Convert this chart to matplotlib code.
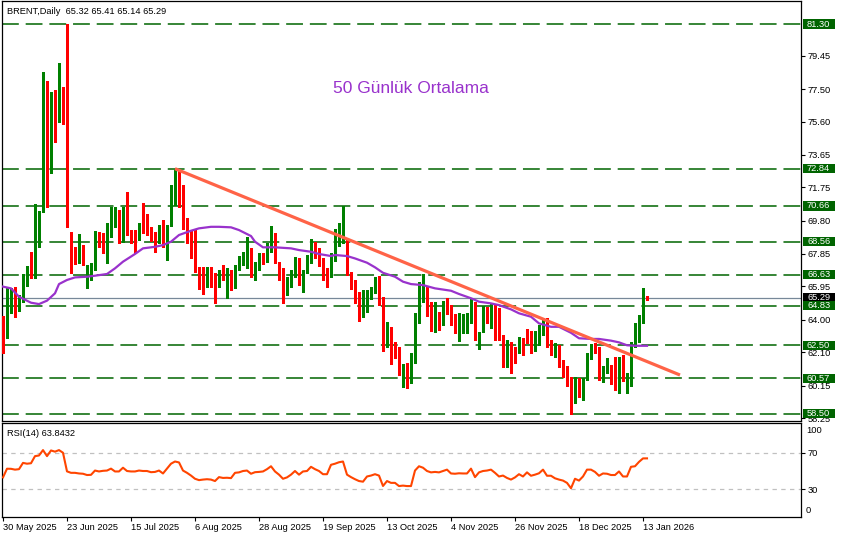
import numpy as np
import matplotlib
matplotlib.use('Agg')
import matplotlib.pyplot as plt
import matplotlib.transforms as mtransforms
from matplotlib.patches import Rectangle

plt.rcParams['font.family'] = ['Liberation Sans', 'DejaVu Sans']

# Daily bars, index 0 = 30 May 2025
opens = [64.05, 62.99, 65.10, 65.57, 64.69, 65.16, 66.56, 67.09, 66.62, 70.01,
         70.36, 77.96, 73.99, 76.62, 76.44, 77.38, 81.00, 68.61, 67.85, 67.55,
         67.85, 66.44, 66.50, 67.03, 68.90, 68.84, 67.44, 69.37, 69.83, 69.95,
         68.72, 70.59, 69.07, 68.96, 68.72, 69.48, 69.25, 69.07, 68.90, 68.61,
         69.66, 67.50, 69.54, 70.83, 72.64, 71.82, 69.07, 68.78, 67.73, 66.85,
         66.33, 65.97, 66.74, 66.15, 65.97, 66.91, 65.86, 66.50, 65.97, 67.03,
         67.50, 67.32, 68.08, 66.79, 67.09, 67.55, 67.38, 68.08, 69.07, 67.32,
         66.79, 65.62, 66.21, 66.74, 67.55, 66.09, 66.97, 67.38, 68.49, 67.96,
         67.50, 66.62, 66.50, 67.79, 68.84, 69.54, 68.55, 66.68, 66.09, 65.39,
         64.22, 64.75, 65.39, 65.68, 65.27, 65.21, 62.99, 63.46, 62.41, 62.41,
         60.89, 61.24, 60.89, 61.53, 64.28, 65.68, 65.80, 64.81, 63.81, 64.10,
         63.87, 65.04, 64.75, 64.16, 63.46, 63.52, 63.64, 63.81, 65.04, 62.47,
         63.34, 64.04, 63.99, 64.75, 64.40, 62.99, 61.65, 62.64, 62.35, 62.29,
         62.82, 63.28, 63.23, 62.64, 62.64, 63.23, 63.69, 62.53, 62.29, 62.41,
         61.53, 61.18, 60.65, 59.19, 60.48, 59.60, 60.53, 61.82, 62.47, 62.29,
         60.42, 60.95, 61.24, 60.83, 60.24, 61.71, 60.01, 60.19, 62.53, 63.17,
         63.93, 65.32]
highs = [64.22, 65.86, 65.86, 65.92, 65.45, 66.68, 67.14, 67.96, 70.77, 70.36,
         78.49, 77.96, 77.32, 77.44, 79.02, 77.61, 81.30, 69.13, 68.26, 69.02,
         68.37, 67.20, 67.32, 69.19, 69.13, 69.07, 69.66, 70.59, 70.59, 70.42,
         70.59, 71.47, 69.25, 69.25, 69.66, 70.83, 70.19, 69.43, 69.13, 69.54,
         69.83, 69.54, 71.88, 72.84, 72.76, 71.88, 69.95, 69.25, 69.25, 67.09,
         67.09, 67.09, 67.09, 66.74, 66.91, 67.20, 67.03, 66.91, 67.20, 67.73,
         67.96, 68.84, 68.20, 67.38, 67.90, 67.90, 68.49, 69.48, 69.07, 67.38,
         67.03, 66.50, 66.91, 67.67, 67.61, 66.91, 67.79, 68.72, 68.55, 68.20,
         67.61, 67.03, 67.90, 69.31, 69.66, 70.66, 68.66, 66.79, 66.33, 65.62,
         65.74, 65.74, 65.92, 66.50, 66.56, 65.33, 63.87, 63.58, 62.70, 62.41,
         61.41, 61.47, 62.06, 64.40, 66.21, 66.70, 65.92, 65.04, 65.04, 64.45,
         65.10, 65.27, 64.86, 64.34, 64.40, 64.34, 64.40, 65.21, 65.04, 63.28,
         64.80, 64.75, 64.98, 64.86, 64.69, 63.11, 62.82, 62.70, 62.41, 62.99,
         62.93, 63.46, 63.34, 63.34, 63.69, 63.99, 64.10, 62.82, 62.64, 62.53,
         61.65, 61.30, 60.65, 60.65, 60.59, 60.59, 62.06, 62.58, 62.64, 62.41,
         61.30, 61.76, 61.35, 61.82, 61.82, 61.94, 60.89, 62.70, 63.81, 64.28,
         65.86, 65.41]
lows = [62.06, 62.93, 64.40, 64.16, 64.51, 65.04, 65.97, 66.44, 66.44, 68.26,
        70.30, 70.59, 72.58, 74.40, 75.57, 75.45, 69.43, 66.74, 67.26, 67.32,
        67.20, 65.86, 66.33, 66.91, 68.26, 67.90, 67.32, 68.84, 69.43, 68.49,
        68.55, 68.96, 68.49, 67.90, 68.66, 69.07, 68.96, 68.61, 67.96, 68.49,
        68.26, 67.50, 69.48, 70.71, 70.59, 69.31, 68.49, 67.61, 66.79, 65.80,
        65.51, 65.92, 65.92, 64.98, 65.92, 66.33, 65.27, 65.74, 65.86, 66.91,
        67.20, 67.03, 66.50, 66.33, 66.91, 67.26, 67.38, 67.96, 67.32, 66.33,
        64.98, 65.45, 65.92, 66.50, 66.03, 65.62, 66.74, 67.32, 67.61, 67.14,
        66.33, 65.92, 66.50, 67.44, 68.31, 68.49, 66.62, 65.80, 64.98, 63.93,
        64.16, 64.45, 65.21, 65.57, 64.86, 62.17, 62.41, 61.41, 61.76, 60.77,
        60.07, 60.01, 60.30, 61.47, 63.81, 65.04, 64.22, 63.35, 63.28, 63.40,
        63.69, 64.34, 63.69, 63.23, 62.76, 63.23, 63.23, 63.81, 62.82, 62.29,
        63.28, 63.81, 63.52, 62.82, 62.82, 61.24, 61.24, 60.89, 61.47, 62.06,
        61.94, 62.64, 62.06, 62.17, 62.53, 63.11, 62.41, 61.94, 61.82, 61.24,
        60.65, 60.13, 58.50, 59.13, 59.48, 59.31, 60.48, 61.71, 62.06, 60.48,
        60.36, 60.89, 60.24, 59.89, 59.72, 60.42, 59.72, 60.13, 62.41, 62.70,
        63.81, 65.14]
closes = [62.41, 65.10, 65.57, 64.75, 65.27, 66.56, 67.14, 66.50, 70.77, 70.30,
          74.51, 72.52, 77.14, 76.03, 78.61, 77.14, 70.59, 67.73, 67.55, 67.73,
          67.32, 66.62, 67.20, 69.13, 68.84, 68.43, 69.54, 69.95, 70.13, 68.84,
          70.59, 69.07, 68.72, 68.72, 69.60, 69.13, 69.13, 68.61, 68.61, 69.31,
          68.26, 69.43, 71.76, 72.76, 71.76, 69.37, 68.55, 67.67, 66.91, 66.38,
          65.97, 66.74, 66.03, 65.62, 66.85, 66.74, 66.50, 65.92, 67.03, 67.61,
          67.79, 68.20, 66.56, 67.14, 67.61, 67.32, 68.20, 69.07, 67.32, 66.79,
          65.57, 66.21, 66.50, 67.55, 66.21, 66.85, 67.44, 68.49, 67.90, 67.38,
          66.50, 66.50, 67.79, 68.84, 69.66, 69.60, 66.74, 66.03, 65.33, 64.22,
          64.34, 65.45, 65.68, 66.03, 65.16, 62.17, 63.35, 62.17, 62.17, 60.89,
          61.30, 60.83, 61.59, 64.40, 65.92, 65.86, 64.98, 63.81, 64.75, 63.99,
          64.63, 64.81, 64.22, 63.52, 63.52, 63.64, 63.93, 65.04, 63.05, 63.05,
          64.16, 63.99, 64.75, 63.58, 63.11, 61.71, 62.64, 61.82, 62.06, 62.88,
          62.29, 63.23, 62.35, 62.76, 63.28, 63.69, 62.47, 62.06, 62.47, 61.47,
          61.06, 60.30, 58.72, 60.65, 59.60, 60.53, 62.00, 62.47, 62.17, 60.77,
          61.18, 61.24, 60.53, 60.77, 61.82, 60.42, 60.36, 62.64, 62.99, 64.22,
          65.45, 65.29]

# 50-day moving average (bar index, price)
ma_idx = [-1, 2, 4, 7, 9, 11, 13, 14, 16, 18, 21, 23, 26, 28, 30, 33, 35,
          38, 40, 42, 44, 47, 49, 52, 54, 57, 59, 62, 63, 65, 68, 72, 74,
          77, 79, 82, 83, 86, 88, 91, 93, 95, 98, 100, 102, 105, 108, 112,
          114, 117, 119, 122, 124, 127, 129, 132, 134, 137, 139, 142, 144,
          147, 149, 152, 154, 156, 158, 161]
ma_val = [65.99, 65.84, 65.35, 65.00, 64.92, 65.12, 65.55, 66.09, 66.33,
          66.48, 66.52, 66.58, 66.68, 67.01, 67.40, 67.85, 68.18, 68.27,
          68.37, 68.57, 68.96, 69.21, 69.35, 69.44, 69.44, 69.41, 69.25,
          68.90, 68.57, 68.24, 68.24, 68.18, 68.08, 67.98, 67.85, 67.73,
          67.79, 67.73, 67.59, 67.34, 67.07, 66.75, 66.52, 66.23, 66.09,
          66.03, 65.84, 65.70, 65.51, 65.26, 65.06, 64.96, 64.86, 64.61,
          64.38, 64.18, 63.79, 63.59, 63.59, 63.24, 62.92, 62.88, 62.88,
          62.78, 62.68, 62.51, 62.48, 62.48]

# RSI(14), one value per bar
rsi = [43.0, 52.5, 52.4, 51.5, 52.0, 58.9, 58.0, 58.5, 66.3, 67.0,
       72.9, 66.3, 72.5, 71.2, 72.9, 70.0, 49.6, 48.0, 48.0, 47.3,
       47.0, 45.6, 45.8, 50.5, 49.5, 50.2, 50.5, 52.6, 49.5, 49.5,
       53.6, 50.0, 49.5, 49.5, 50.5, 50.0, 50.0, 48.7, 49.0, 50.5,
       47.3, 52.6, 58.0, 60.4, 59.4, 50.5, 48.0, 45.0, 41.5, 40.0,
       40.6, 41.0, 40.6, 39.0, 43.3, 42.4, 42.6, 42.2, 48.0, 48.5,
       50.0, 50.5, 47.0, 48.7, 49.0, 49.5, 52.0, 55.2, 49.5, 46.0,
       41.5, 43.0, 46.0, 50.0, 46.0, 49.5, 50.0, 54.6, 52.0, 50.0,
       46.5, 46.5, 56.8, 58.0, 59.6, 60.4, 46.0, 43.3, 41.0, 39.0,
       38.3, 44.0, 45.0, 46.5, 45.0, 33.6, 39.0, 37.0, 37.0, 33.5,
       34.0, 33.5, 33.5, 50.5, 55.2, 53.6, 50.0, 48.5, 49.0, 48.5,
       50.0, 51.5, 47.3, 47.0, 47.5, 47.3, 47.3, 52.6, 43.3, 48.5,
       50.0, 50.5, 51.5, 48.0, 44.0, 45.0, 42.4, 40.6, 43.0, 46.5,
       44.0, 48.5, 44.8, 46.0, 47.5, 51.5, 44.8, 44.8, 42.0, 40.6,
       39.5, 37.0, 31.1, 41.5, 39.5, 44.0, 51.5, 51.5, 49.0, 44.8,
       47.3, 47.0, 45.6, 45.6, 49.5, 44.0, 44.0, 54.6, 55.2, 60.0,
       63.8, 63.84]

levels = [81.30, 72.84, 70.66, 68.56, 66.63, 64.83, 62.50, 60.57, 58.50]
last_price = 65.29
price_ticks = [79.45, 77.50, 75.60, 73.65, 71.75, 69.80, 67.85, 65.95,
               64.00, 62.10, 60.15, 58.25]
trend_x = [43, 169.25]
trend_y = [72.84, 60.77]
date_pos = [0, 16, 32, 48, 64, 80, 96, 112, 128, 144, 160]
date_lbl = ['30 May 2025', '23 Jun 2025', '15 Jul 2025', '6 Aug 2025',
            '28 Aug 2025', '19 Sep 2025', '13 Oct 2025', '4 Nov 2025',
            '26 Nov 2025', '18 Dec 2025', '13 Jan 2026']

W, H = 841, 538
fig = plt.figure(figsize=(W / 100, H / 100), dpi=100, facecolor='white')
ax = fig.add_axes([2 / W, 1 - 421 / H, 799 / W, 420 / H])
ax2 = fig.add_axes([2 / W, 1 - 517 / H, 799 / W, 94 / H])

fs = 6.7
xmin, xmax = -0.25, 199.5

# ---- price panel ----
o, h, l, c = map(np.array, (opens, highs, lows, closes))
x = np.arange(len(c))
col = np.where(c >= o, '#008000', '#FF0000')

for lv in levels:
    ax.axhline(lv, color='#006400', lw=1.1, dashes=(11, 4.5), zorder=1)
ax.axhline(last_price, color='#778899', lw=0.9, zorder=2)

ax.vlines(x, l, h, colors=col, lw=0.8, zorder=3, antialiased=False)
ax.bar(x, np.maximum(np.abs(c - o), 0.04), bottom=np.minimum(o, c),
       width=0.66, color=col, lw=0, zorder=4, antialiased=False)

ax.plot(ma_idx, ma_val, color='#9932CC', lw=1.6, zorder=5)
ax.plot(trend_x, trend_y, color='#FF6347', lw=2.3, zorder=6,
        solid_capstyle='butt')

ax.set_xlim(xmin, xmax)
ax.set_ylim(58.08, 82.65)
ax.set_xticks([])
ax.yaxis.tick_right()
ax.set_yticks(price_ticks)
ax.set_yticklabels(['%.2f' % t for t in price_ticks])
ax.tick_params(axis='y', direction='out', length=3, width=0.8,
               labelsize=fs, pad=2)
for s in ax.spines.values():
    s.set_linewidth(0.9)

ax.text(5 / 799, 1 - 10 / 420, 'BRENT,Daily  65.32 65.41 65.14 65.29',
        transform=ax.transAxes, fontsize=fs, va='center', ha='left')
ax.text(102, 77.55, '50 Günlük Ortalama', color='#9932CC', fontsize=12.5,
        ha='center', va='center')

# price boxes on the right scale
trans = mtransforms.blended_transform_factory(ax.transAxes, ax.transData)
hh = 4.6 * 0.05848
bw = 32 / 799
boxes = [(last_price, 'black', 11)] + [(lv, '#006400', 12) for lv in levels]
for val, fc, z in boxes:
    ax.add_patch(Rectangle((1.002, val - hh), bw, 2 * hh, transform=trans,
                           fc=fc, ec='none', clip_on=False, zorder=z))
    ax.text(1.002 + bw / 2, val, '%.2f' % val, transform=trans, color='white',
            fontsize=fs, ha='center', va='center', clip_on=False, zorder=z)

# ---- RSI panel ----
ax2.plot(x, rsi, color='#FF4500', lw=1.5, zorder=3)
for lv in (70, 30):
    ax2.axhline(lv, color='#C0C0C0', lw=0.9, dashes=(3.5, 3.5), zorder=1)
ax2.set_xlim(xmin, xmax)
ax2.set_ylim(-0.4, 102.6)
ax2.yaxis.tick_right()
ax2.set_yticks([70, 30])
ax2.tick_params(axis='y', direction='out', length=3, width=0.8,
                labelsize=fs, pad=2)
rtrans = mtransforms.blended_transform_factory(ax2.transAxes, ax2.transData)
ax2.text(1.006, 94, '100', transform=rtrans, fontsize=fs, va='center',
         clip_on=False)
ax2.text(1.006, 7, '0', transform=rtrans, fontsize=fs, va='center',
         clip_on=False)
ax2.set_xticks(date_pos)
ax2.set_xticklabels(date_lbl, ha='left')
ax2.tick_params(axis='x', direction='out', length=3, width=0.8,
                labelsize=fs, pad=1.5)
for s in ax2.spines.values():
    s.set_linewidth(0.9)
ax2.text(5 / 799, 1 - 11 / 94, 'RSI(14) 63.8432', transform=ax2.transAxes,
         fontsize=fs, va='center', ha='left')

fig.savefig('out.png', dpi=100, facecolor='white')
